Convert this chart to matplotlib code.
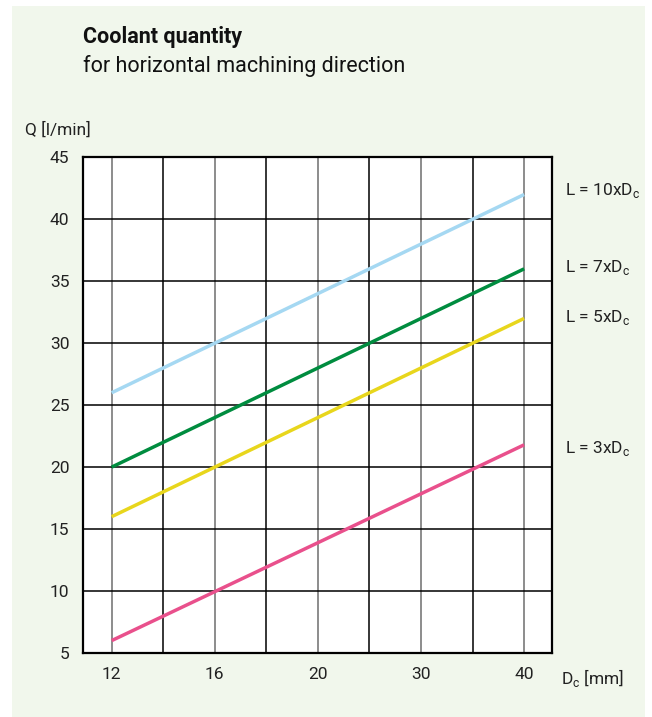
import numpy as np
import matplotlib.pyplot as plt
from matplotlib.patches import Rectangle

# x axis is a stepped scale: tick labels at evenly spaced positions
x_labels = ['12', '16', '20', '30', '40']
x_pos = np.arange(len(x_labels))

# lines run from Dc=12 to Dc=40 (straight in the chart's scale)
line_x = [0, 4]
q_10x = [26, 42]
q_7x = [20, 36]
q_5x = [16, 32]
q_3x = [6, 21.8]

series = [
    ('L = 10xD$_\\mathregular{c}$', q_10x, '#a5d8f2'),
    ('L = 7xD$_\\mathregular{c}$', q_7x, '#008c3f'),
    ('L = 5xD$_\\mathregular{c}$', q_5x, '#e8d61c'),
    ('L = 3xD$_\\mathregular{c}$', q_3x, '#e9508c'),
]
label_y = [42.3, 36.1, 32.1, 21.5]

plt.rcParams['font.family'] = ['Roboto', 'DejaVu Sans']

fig = plt.figure(figsize=(6.52, 7.17), dpi=100)
fig.patch.set_facecolor('white')
fig.patches.append(Rectangle((12 / 652, 0), 633 / 652, 711 / 717,
                             transform=fig.transFigure, facecolor='#f1f7ec',
                             edgecolor='none', zorder=-5))

ax = fig.add_axes([83.3 / 652, 64 / 717, 468.7 / 652, 495.7 / 717])
ax.set_zorder(2)
ax.set_facecolor('white')
ax.set_xlim(-0.275, 4.27)
ax.set_ylim(5, 45)

# grid: grey at labelled positions, black halfway between
for p in x_pos:
    ax.axvline(p, color='#8c8c8c', lw=1.4, zorder=1)
for p in x_pos[:-1] + 0.5:
    ax.axvline(p, color='black', lw=1.1, zorder=1)
for v in range(10, 45, 5):
    ax.axhline(v, color='black', lw=1.1, zorder=1)

for name, vals, col in series:
    ax.plot(line_x, vals, color=col, lw=2.5, solid_capstyle='butt', zorder=3)

for (name, vals, col), ly in zip(series, label_y):
    ax.text(4.40, ly, name, fontsize=12.5, color='#222222', va='center', ha='left',
            clip_on=False)

for s in ax.spines.values():
    s.set_linewidth(1.6)
    s.set_color('black')

ax.set_xticks(x_pos)
ax.set_xticklabels(x_labels)
ax.set_yticks(range(5, 50, 5))
ax.tick_params(length=0, labelsize=12.5, colors='#222222', pad=10)
ax.tick_params(axis='y', pad=10)

fig.text(561 / 652, 1 - 678 / 717, 'D$_\\mathregular{c}$ [mm]', fontsize=12.5,
         color='#222222', va='center', ha='left')
fig.text(25 / 652, 1 - 130 / 717, 'Q [l/min]', fontsize=12.5, color='#222222',
         va='center', ha='left')
fig.text(83 / 652, 1 - 37 / 717, 'Coolant quantity', fontsize=15.5, weight='bold',
         color='#111111', va='center', ha='left')
fig.text(83 / 652, 1 - 66 / 717, 'for horizontal machining direction', fontsize=15.5,
         color='#111111', va='center', ha='left')

plt.savefig('out.png', dpi=100)
